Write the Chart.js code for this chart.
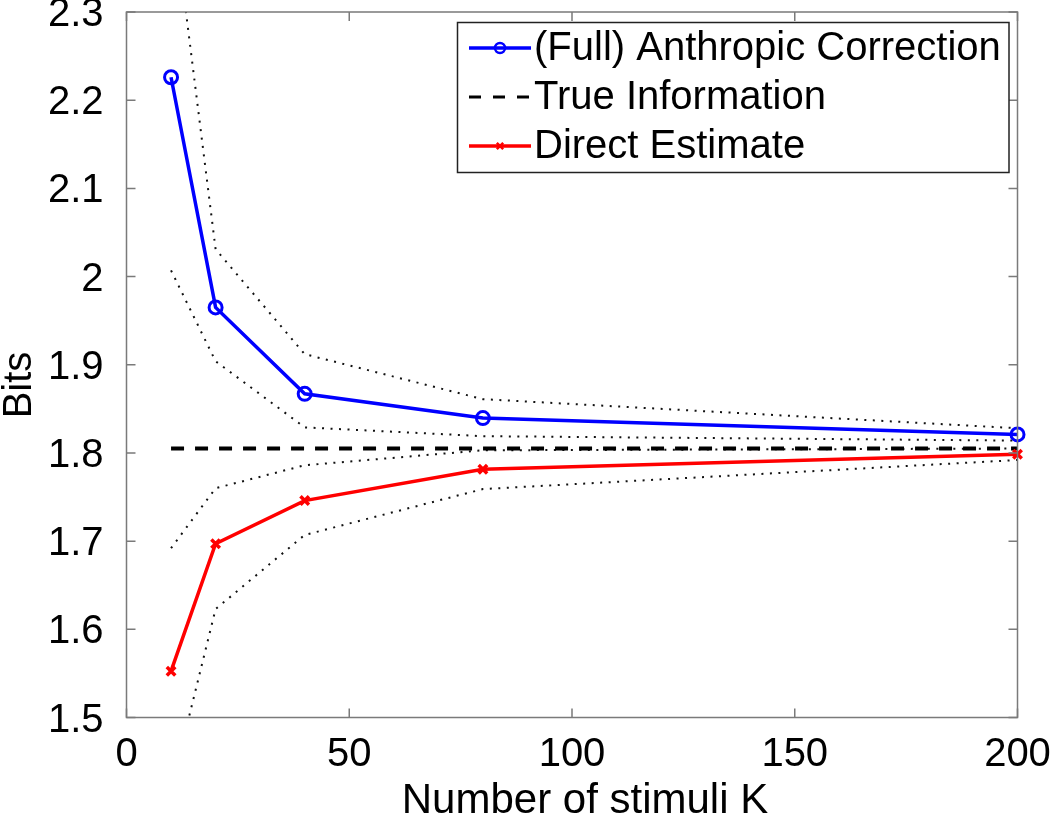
<!DOCTYPE html>
<html><head><meta charset="utf-8">
<script src="https://cdn.jsdelivr.net/npm/chart.js@4.4.1/dist/chart.umd.min.js"></script>
<style>html,body{margin:0;padding:0;background:#fff;overflow:hidden}#wrap{width:1050px;height:819px}</style>
</head><body><div id="wrap"><canvas id="c" width="1050" height="819"></canvas></div>
<script>
const stimuliK = [10, 20, 40, 80, 200];
const anthropic = [2.226, 1.965, 1.867, 1.8395, 1.821];
const anthropicUpper = [2.435, 2.031, 1.912, 1.861, 1.828];
const anthropicLower = [2.007, 1.904, 1.829, 1.819, 1.814];
const trueInformation = [1.805, 1.805, 1.805, 1.805, 1.805];
const direct = [1.5525, 1.697, 1.746, 1.7815, 1.7985];
const directUpper = [1.692, 1.760, 1.786, 1.803, 1.805];
const directLower = [1.418, 1.623, 1.707, 1.759, 1.792];
const xTicks = [0, 50, 100, 150, 200];
const yTicks = [1.5, 1.6, 1.7, 1.8, 1.9, 2.0, 2.1, 2.2, 2.3];
const seriesLabels = ['(Full) Anthropic Correction', 'True Information', 'Direct Estimate'];
const xTitle = 'Number of stimuli K';
const yTitle = 'Bits';

const FONT = "'Liberation Sans', Arial, Helvetica, sans-serif";
const pts = arr => stimuliK.map((k, i) => ({x: k, y: arr[i]}));

const dotted = arr => ({
  data: pts(arr), borderColor: '#111', borderWidth: 2, borderDash: [2, 6.5],
  pointRadius: 0, fill: false, tension: 0
});

const datasets = [
  { label: seriesLabels[0], data: pts(anthropic), borderColor: '#0000ff', borderWidth: 3.5,
    pointStyle: 'circle', pointRadius: 6.5, pointBorderWidth: 3, pointBorderColor: '#0000ff',
    pointBackgroundColor: 'rgba(0,0,0,0)', clip: false, legendRadius: 5 },
  { label: seriesLabels[2], data: pts(direct), borderColor: '#ff0000', borderWidth: 3.5,
    pointStyle: 'crossRot', pointRadius: 6, pointBorderWidth: 3.5, pointBorderColor: '#ff0000',
    clip: false, legendRadius: 4.5 },
  { label: seriesLabels[1], data: pts(trueInformation), borderColor: '#000', borderWidth: 4,
    borderDash: [13, 11], pointRadius: 0, clip: false },
  dotted(anthropicUpper), dotted(anthropicLower), dotted(directUpper), dotted(directLower)
];

const framePlugin = {
  id: 'frame',
  afterDatasetsDraw(chart) {
    const {ctx, chartArea: a, scales: {x, y}} = chart;
    ctx.save();
    ctx.strokeStyle = '#7a7a7a';
    ctx.lineWidth = 1.5;
    ctx.setLineDash([]);
    ctx.strokeRect(a.left, a.top, a.right - a.left, a.bottom - a.top);
    const L = 9;
    ctx.beginPath();
    x.ticks.forEach(t => {
      const p = x.getPixelForValue(t.value);
      ctx.moveTo(p, a.bottom); ctx.lineTo(p, a.bottom - L);
      ctx.moveTo(p, a.top); ctx.lineTo(p, a.top + L);
    });
    y.ticks.forEach(t => {
      const p = y.getPixelForValue(t.value);
      ctx.moveTo(a.left, p); ctx.lineTo(a.left + L, p);
      ctx.moveTo(a.right, p); ctx.lineTo(a.right - L, p);
    });
    ctx.stroke();
    ctx.restore();
  }
};

const titlePlugin = {
  id: 'axisTitles',
  afterDraw(chart) {
    const {ctx} = chart;
    ctx.save();
    ctx.fillStyle = '#000';
    ctx.textAlign = 'center';
    ctx.textBaseline = 'middle';
    ctx.font = '42px ' + FONT;
    ctx.fillText(xTitle, 585, 801);
    ctx.translate(20, 385);
    ctx.rotate(-Math.PI / 2);
    ctx.font = '40px ' + FONT;
    ctx.fillText(yTitle, 0, 0);
    ctx.restore();
  }
};

const legendPlugin = {
  id: 'boxLegend',
  afterDraw(chart) {
    const {ctx} = chart;
    const box = {left: 457.5, top: 22.5, right: 1009, bottom: 172.5};
    ctx.save();
    ctx.fillStyle = '#fff';
    ctx.fillRect(box.left, box.top, box.right - box.left, box.bottom - box.top);
    ctx.strokeStyle = '#222';
    ctx.lineWidth = 1.5;
    ctx.strokeRect(box.left, box.top, box.right - box.left, box.bottom - box.top);
    const order = [0, 2, 1];
    const rowY = [48, 97, 146];
    order.forEach((di, r) => {
      const ds = chart.data.datasets[di];
      const yy = rowY[r];
      ctx.strokeStyle = ds.borderColor;
      ctx.lineWidth = ds.borderDash ? 3 : ds.borderWidth;
      ctx.setLineDash(ds.borderDash ? [12, 12] : []);
      ctx.beginPath();
      ctx.moveTo(469, yy); ctx.lineTo(531, yy);
      ctx.stroke();
      ctx.setLineDash([]);
      if (ds.pointRadius > 0) {
        ctx.strokeStyle = ds.pointBorderColor;
        ctx.fillStyle = 'rgba(0,0,0,0)';
        ctx.lineWidth = 2.5;
        Chart.helpers.drawPoint(ctx, {pointStyle: ds.pointStyle, radius: ds.legendRadius, borderWidth: 2.5, rotation: 0}, 500, yy);
      }
      ctx.fillStyle = '#000';
      ctx.font = '40px ' + FONT;
      ctx.textAlign = 'left';
      ctx.textBaseline = 'middle';
      ctx.fillText(ds.label, 534, yy + 1);
    });
    ctx.restore();
  }
};

new Chart(document.getElementById('c'), {
  type: 'line',
  data: {datasets},
  plugins: [framePlugin, titlePlugin, legendPlugin],
  options: {
    responsive: false, animation: false, devicePixelRatio: 1,
    layout: {padding: {top: 12, right: 32.5, bottom: 0, left: 0}},
    plugins: {legend: {display: false}, tooltip: {enabled: false}},
    elements: {line: {tension: 0}},
    scales: {
      x: {
        type: 'linear', min: 0, max: 200,
        grid: {display: false}, border: {display: false},
        afterBuildTicks: s => { s.ticks = xTicks.map(v => ({value: v})); },
        afterFit: s => { s.height = 101.5; s.paddingLeft = 0; s.paddingRight = 0; },
        ticks: {color: '#000', padding: 5, maxRotation: 0, autoSkip: false,
          font: {family: FONT, size: 40, lineHeight: 1.2},
          callback: v => String(v)},
        title: {display: false}
      },
      y: {
        type: 'linear', min: 1.5, max: 2.3,
        grid: {display: false}, border: {display: false},
        afterBuildTicks: s => { s.ticks = yTicks.map(v => ({value: v})); },
        afterFit: s => { s.width = 126.5; s.paddingTop = 0; s.paddingBottom = 0; },
        ticks: {color: '#000', padding: 15, autoSkip: false, labelOffset: 3,
          font: {family: FONT, size: 40, lineHeight: 1.2},
          callback: v => String(Number(Number(v).toFixed(1)))},
        title: {display: false}
      }
    }
  }
});
</script>
</body></html>
